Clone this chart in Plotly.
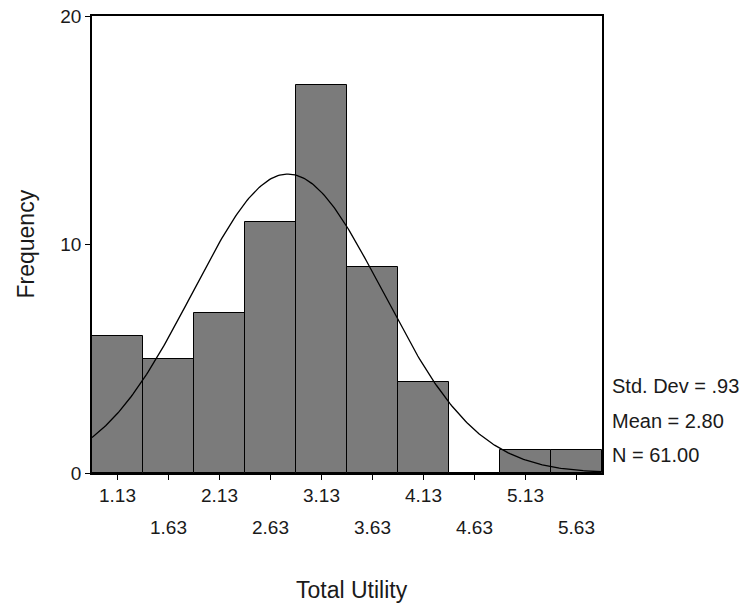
import numpy as np
import plotly.graph_objects as go

# Data
bin_centers = [1.13, 1.63, 2.13, 2.63, 3.13, 3.63, 4.13, 4.63, 5.13, 5.63]
frequencies = [6, 5, 7, 11, 17, 9, 4, 0, 1, 1]
tick_labels = ["1.13", "1.63", "2.13", "2.63", "3.13", "3.63", "4.13", "4.63", "5.13", "5.63"]
std_dev = 0.93
mean = 2.80
n_total = 61
bin_width = 0.5
stats_text = ["Std. Dev = .93", "Mean = 2.80", "N = 61.00"]

FONT = "Liberation Sans, Arial, Helvetica, sans-serif"

x_lo = bin_centers[0] - bin_width / 2
x_hi = bin_centers[-1] + bin_width / 2

# fitted normal curve from the stated statistics
xc = np.linspace(x_lo, x_hi, 300)
yc = n_total * bin_width / (std_dev * np.sqrt(2 * np.pi)) * np.exp(-0.5 * ((xc - mean) / std_dev) ** 2)

fig = go.Figure()
fig.add_trace(go.Bar(
    x=bin_centers, y=frequencies, width=bin_width,
    marker=dict(color="rgb(123,123,123)", line=dict(color="black", width=1)),
    showlegend=False, hoverinfo="skip",
))
fig.add_trace(go.Scatter(
    x=xc, y=yc, mode="lines", line=dict(color="black", width=1.3),
    showlegend=False, hoverinfo="skip",
))

annotations = []
for i, (v, t) in enumerate(zip(bin_centers, tick_labels)):
    annotations.append(dict(
        x=v, xref="x", y=0, yref="paper", text=t, showarrow=False,
        xanchor="center", yanchor="middle", yshift=-22 if i % 2 == 0 else -54,
        font=dict(family=FONT, size=19, color="#1a1a1a"),
    ))
for j, s in enumerate(stats_text):
    annotations.append(dict(
        x=1, xref="paper", y=0, yref="paper", text=s, showarrow=False,
        xanchor="left", yanchor="middle", xshift=8, yshift=[87, 52, 18][j],
        font=dict(family=FONT, size=20, color="#1a1a1a"),
    ))
annotations.append(dict(
    x=0, xref="paper", y=0.5, yref="paper", text="Frequency", showarrow=False,
    xanchor="center", yanchor="middle", xshift=-67, textangle=-90,
    font=dict(family=FONT, size=23, color="#1a1a1a"),
))
annotations.append(dict(
    x=0.5, xref="paper", y=0, yref="paper", text="Total Utility", showarrow=False,
    xanchor="center", yanchor="middle", xshift=5, yshift=-117,
    font=dict(family=FONT, size=23, color="#1a1a1a"),
))

fig.update_layout(
    width=746, height=607,
    margin=dict(l=92, r=144, t=16, b=134),
    paper_bgcolor="white", plot_bgcolor="white",
    bargap=0,
    annotations=annotations,
    xaxis=dict(
        range=[x_lo, x_hi], tickvals=bin_centers, showticklabels=False,
        ticks="outside", ticklen=5, tickcolor="black", tickwidth=1,
        showline=True, linecolor="black", linewidth=1.5, mirror=True,
        showgrid=False, zeroline=False, automargin=False,
    ),
    yaxis=dict(
        range=[0, 20], tickvals=[0, 10, 20],
        ticks="outside", ticklen=5, tickcolor="black", tickwidth=1,
        showline=True, linecolor="black", linewidth=1.5, mirror=True,
        showgrid=False, zeroline=False, automargin=False,
        ticklabeloverflow="allow",
        tickfont=dict(family=FONT, size=19, color="#1a1a1a"),
    ),
)

fig.write_html(
    "out.html",
    config={"displayModeBar": False},
    post_script="document.body.style.margin='0';",
)
